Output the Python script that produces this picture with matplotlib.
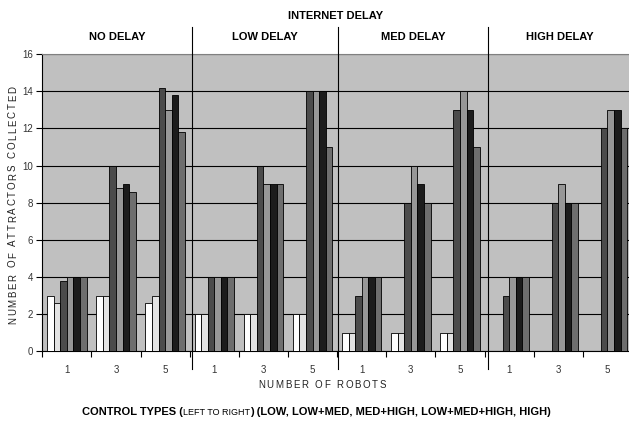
import numpy as np
import matplotlib
matplotlib.use('Agg')
import matplotlib.pyplot as plt

plt.rcParams['font.family'] = ['Liberation Sans', 'DejaVu Sans']

# datos: 4 niveles de retardo x 3 tamanos de equipo
delays = ['NO DELAY', 'LOW DELAY', 'MED DELAY', 'HIGH DELAY']
robots = ['1', '3', '5']

ctrl_1 = [3, 3, 2.6, 2, 2, 2, 1, 1, 1, 0, 0, 0]
ctrl_2 = [2.6, 3, 3, 2, 2, 2, 1, 1, 1, 0, 0, 0]
ctrl_3 = [3.8, 10, 14.2, 4, 10, 14, 3, 8, 13, 3, 8, 12]
ctrl_4 = [4, 8.8, 13, 4, 9, 14, 4, 10, 14, 4, 9, 13]
ctrl_5 = [4, 9, 13.8, 4, 9, 14, 4, 9, 13, 4, 8, 13]
ctrl_6 = [4, 8.6, 11.8, 4, 9, 11, 4, 8, 11, 4, 8, 12]

series = [ctrl_1, ctrl_2, ctrl_3, ctrl_4, ctrl_5, ctrl_6]
colores = ['#ffffff', '#e3e3e3', '#4b4b4b', '#979797', '#1c1c1c', '#6e6e6e']

W, H = 629, 423
fig = plt.figure(figsize=(W / 100, H / 100), dpi=100)
r = fig.canvas.get_renderer()
# el area del grafico se sale un poco por la derecha, como en el original
ax = fig.add_axes([42.3 / W, (H - 351.3) / H, 589.7 / W, 297.1 / H])
ax.set_facecolor('#c0c0c0')

n_cat = len(delays) * len(robots)
x = np.arange(n_cat)
w = 1 / 7.5
for i, (vals, col) in enumerate(zip(series, colores)):
    ax.bar(x + 0.5 + (i - 2.5) * w, vals, w, color=col,
           edgecolor='black', linewidth=0.6, zorder=3)

ax.set_xlim(0, n_cat)
ax.set_ylim(0, 16)
ax.set_yticks(range(0, 17, 2))
ax.yaxis.grid(True, color='black', linewidth=0.8)
ax.set_axisbelow(True)

ax.spines['top'].set_color('#808080')
ax.spines['right'].set_visible(False)
for s in ['left', 'bottom']:
    ax.spines[s].set_linewidth(0.8)

ax.set_xticks(np.arange(n_cat + 1))
ax.set_xticklabels([])
ax.set_xticks(x + 0.5, minor=True)
ax.set_xticklabels(robots * len(delays), minor=True)
ax.tick_params(axis='x', which='major', length=4, width=0.8, direction='out')
ax.tick_params(axis='x', which='minor', length=0, pad=10, labelsize=7,
               labelcolor='#333333')
ax.tick_params(axis='y', length=4, width=0.8, pad=2.5, labelsize=7,
               labelcolor='#333333')

# separadores de los paneles de retardo
limites = [0, 3.05, 6.02, 9.07, n_cat]
trans = ax.get_xaxis_transform()
for xd in limites[1:-1]:
    ax.plot([xd, xd], [-0.0606, 1.0926], color='black', linewidth=0.8,
            transform=trans, clip_on=False, zorder=5)
for k, nombre in enumerate(delays):
    xc = (limites[k] + limites[k + 1]) / 2
    ax.text(xc, 1.0569, nombre, transform=trans, ha='center', va='center',
            fontsize=8, fontweight='bold')

fig.text(335.5 / W, 1 - 16 / H, 'INTERNET DELAY', ha='center', va='center',
         fontsize=8, fontweight='bold')


def texto_espaciado(xc, yc, s, tam, largo, vertical=False):
    # letra por letra para imitar el espaciado ancho del original
    anchos = []
    for ch in s:
        t = fig.text(0, 0, ch, fontsize=tam)
        anchos.append(t.get_window_extent(r).width)
        t.remove()
    extra = (largo - sum(anchos)) / (len(s) - 1)
    pos = -largo / 2
    for ch, a in zip(s, anchos):
        c = pos + a / 2
        if vertical:
            fig.text(xc / W, 1 - (yc - c) / H, ch, rotation=90, fontsize=tam,
                     ha='center', va='center', color='#222222')
        else:
            fig.text((xc + c) / W, 1 - yc / H, ch, fontsize=tam,
                     ha='center', va='center', color='#222222')
        pos += a + extra


texto_espaciado(13, 205, 'NUMBER OF ATTRACTORS COLLECTED', 7, 238,
                vertical=True)
texto_espaciado(322, 385, 'NUMBER OF ROBOTS', 7, 128)

# titulo inferior con tamanos mezclados
partes = [('CONTROL TYPES (', 8, 'bold'),
          ('LEFT TO RIGHT', 6.5, 'normal'),
          (') (LOW, LOW+MED, MED+HIGH, LOW+MED+HIGH, HIGH)', 8, 'bold')]
x0 = 82
for texto, tam, peso in partes:
    t = fig.text(x0 / W, 1 - 415 / H, texto, ha='left', va='baseline',
                 fontsize=tam, fontweight=peso)
    x0 = t.get_window_extent(r).x1

fig.savefig('out.png', dpi=100)
